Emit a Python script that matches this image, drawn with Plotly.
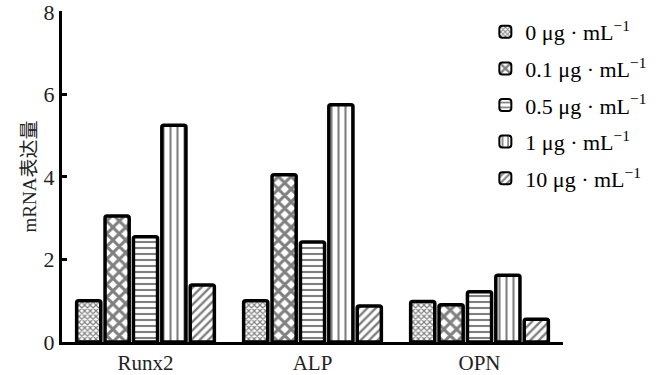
import plotly.graph_objects as go

categories = ["Runx2", "ALP", "OPN"]
series_names = ["0 μg · mL<sup>−1</sup>", "0.1 μg · mL<sup>−1</sup>", "0.5 μg · mL<sup>−1</sup>",
                "1 μg · mL<sup>−1</sup>", "10 μg · mL<sup>−1</sup>"]
vals_0 = [1.0, 1.0, 0.98]
vals_01 = [3.05, 4.05, 0.9]
vals_05 = [2.55, 2.42, 1.22]
vals_1 = [5.25, 5.75, 1.62]
vals_10 = [1.38, 0.87, 0.55]
series_values = [vals_0, vals_01, vals_05, vals_1, vals_10]
y_ticks = [0, 2, 4, 6, 8]

patterns = [
    dict(shape="x", size=4, solidity=0.5),
    dict(shape="x", size=9, solidity=0.55),
    dict(shape="-", size=6, solidity=0.35),
    dict(shape="|", size=7, solidity=0.3),
    dict(shape="/", size=6, solidity=0.4),
]

fig = go.Figure()
for i, (name, vals, pat) in enumerate(zip(series_names, series_values, patterns)):
    fig.add_trace(go.Bar(
        x=categories, y=vals, name=name, legendgroup=f"g{i}",
        marker=dict(color="white", line=dict(color="black", width=3.5), cornerradius=2,
                    pattern=dict(fgcolor="black", bgcolor="white", fillmode="overlay", **pat)),
    ))

fig.update_layout(
    width=667, height=375,
    margin=dict(l=62, r=104, t=11, b=33),
    paper_bgcolor="white", plot_bgcolor="white",
    barmode="group", bargap=0.15, bargroupgap=0.15,
    font=dict(family="Liberation Serif", color="black", size=18),
    showlegend=True,
    legend=dict(x=0.845, y=1.0, xanchor="left", yanchor="top",
                font=dict(size=22, family="Liberation Serif", color="black"),
                tracegroupgap=5, itemsizing="constant", bgcolor="rgba(0,0,0,0)"),
    xaxis=dict(showline=True, linecolor="black", linewidth=3, ticks="", automargin=False,
               tickfont=dict(size=21, family="Liberation Serif", color="#222"), range=[-0.5, 2.5]),
    yaxis=dict(range=[0, 8.02], tickvals=y_ticks, showline=True, linecolor="black", linewidth=3,
               ticks="inside", ticklen=5, tickwidth=3, tickcolor="black", showgrid=False,
               zeroline=False, ticklabeloverflow="allow", automargin=False,
               tickfont=dict(size=22, family="Liberation Serif", color="#222"),
               title=dict(text="mRNA表达量", standoff=2,
                          font=dict(size=19, family="Liberation Serif, Noto Sans CJK SC", color="#222"))),
)
fig.write_html("out.html")
